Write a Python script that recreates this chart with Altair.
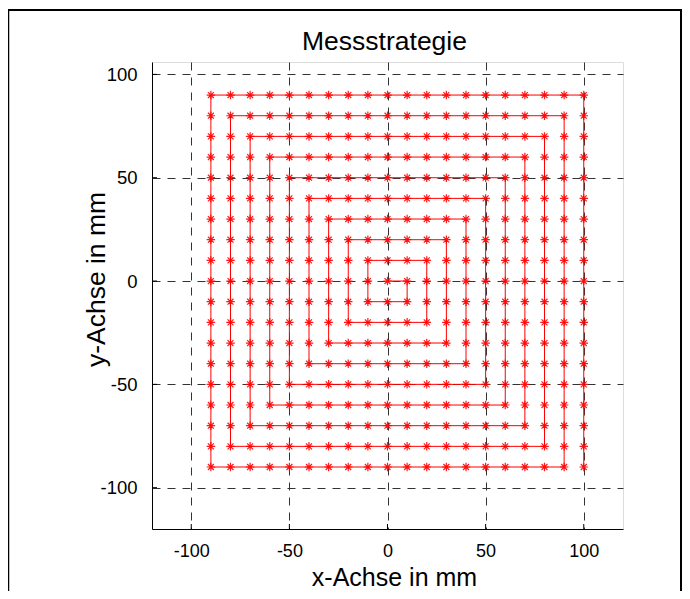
import altair as alt
import pandas as pd

# Spiral path corner points (mm)
corner_x = [0, 10, 10, -10, -10, 20, 20, -20, -20, 30, 30, -30, -30, 40, 40, -40, -40,
            50, 50, -50, -50, 60, 60, -60, -60, 70, 70, -70, -70, 80, 80, -80, -80,
            90, 90, -90, -90, 100, 100]
corner_y = [0, 0, -10, -10, 10, 10, -20, -20, 20, 20, -30, -30, 30, 30, -40, -40, 40,
            40, -50, -50, 50, 50, -60, -60, 60, 60, -70, -70, 70, 70, -80, -80, 80,
            80, -90, -90, 90, 90, -90]

# Measurement grid (mm)
grid_x = [-90, -80, -70, -60, -50, -40, -30, -20, -10, 0, 10, 20, 30, 40, 50, 60, 70, 80, 90, 100]
grid_y = [-90, -80, -70, -60, -50, -40, -30, -20, -10, 0, 10, 20, 30, 40, 50, 60, 70, 80, 90]

tick_vals = [-100, -50, 0, 50, 100]
title_text = "Messstrategie"

path_df = pd.DataFrame({"x": corner_x, "y": corner_y, "i": list(range(len(corner_x)))})
pts_df = pd.DataFrame([{"x": gx, "y": gy} for gx in grid_x for gy in grid_y])
ticks_df = pd.DataFrame({"t": tick_vals})

FONT = "Liberation Sans"
W, H = 471, 467

xs = alt.Scale(domain=[-120, 120], nice=False, zero=False)
ys = alt.Scale(domain=[-120, 106], nice=False, zero=False)

xaxis = alt.Axis(values=tick_vals, grid=True, gridDash=[8, 7], gridColor="#333333",
                 gridWidth=1, ticks=False, tickSize=0, labelPadding=13,
                 labelExpr="'' + datum.value",
                 domainColor="black", domainWidth=1, labelFont=FONT, labelFontSize=18,
                 labelColor="black", title="x-Achse in mm", titleFont=FONT,
                 titleFontSize=25, titleFontWeight="normal", titleColor="black",
                 titleBaseline="alphabetic", titleX=242, titleY=56)
yaxis = alt.Axis(values=tick_vals, grid=True, gridDash=[8, 7], gridColor="#333333",
                 gridWidth=1, ticks=False, tickSize=0, labelPadding=15,
                 labelExpr="'' + datum.value",
                 domainColor="black", domainWidth=1, labelFont=FONT, labelFontSize=18.5,
                 labelColor="black", title="y-Achse in mm", titleFont=FONT,
                 titleFontSize=26.5, titleFontWeight="normal", titleColor="black",
                 titleBaseline="alphabetic", titleAngle=270, titleX=-48, titleY=217)

base_pts = alt.Chart(pts_df).mark_point(
    shape="M-1,0L1,0M0,-1L0,1M-0.7,-0.7L0.7,0.7M-0.7,0.7L0.7,-0.7",
    filled=False, color="#ff0000", strokeWidth=1.2, size=72, opacity=0.9
).encode(
    x=alt.X("x:Q", scale=xs, axis=xaxis),
    y=alt.Y("y:Q", scale=ys, axis=yaxis),
)

line = alt.Chart(path_df).mark_line(color="#ff0000", strokeWidth=1).encode(
    x=alt.X("x:Q", scale=xs),
    y=alt.Y("y:Q", scale=ys),
    order="i:Q",
)

xticks = alt.Chart(ticks_df).mark_rule(color="black", strokeWidth=1).encode(
    x=alt.X("t:Q", scale=xs),
    y=alt.value(H),
    y2=alt.value(H - 5),
)
yticks = alt.Chart(ticks_df).mark_rule(color="black", strokeWidth=1).encode(
    y=alt.Y("t:Q", scale=ys),
    x=alt.value(0),
    x2=alt.value(5),
)

one = alt.Data(values=[{"a": 1}])
title_mark = alt.Chart(alt.Data(values=[{"t": title_text}])).mark_text(
    font=FONT, fontSize=26.5, color="black", baseline="alphabetic", align="center"
).encode(x=alt.value(W / 2 - 3), y=alt.value(-12), text="t:N")

frame_left = alt.Chart(one).mark_rule(color="black", strokeWidth=2.5).encode(
    x=alt.value(-144), y=alt.value(-52), y2=alt.value(540))
frame_top = alt.Chart(one).mark_rule(color="black", strokeWidth=2).encode(
    x=alt.value(-145), x2=alt.value(530), y=alt.value(-52))
frame_right = alt.Chart(one).mark_rule(color="black", strokeWidth=2).encode(
    x=alt.value(529), y=alt.value(-52), y2=alt.value(540))

chart = alt.layer(
    line, base_pts, xticks, yticks, title_mark, frame_left, frame_top, frame_right
).properties(
    width=W, height=H,
    autosize=alt.AutoSizeParams(type="none"),
    padding={"left": 144, "top": 54, "right": 59, "bottom": 62},
).configure_view(stroke=None).configure(background="white")

chart.save("out.html", embed_options={"renderer": "svg", "actions": False})
